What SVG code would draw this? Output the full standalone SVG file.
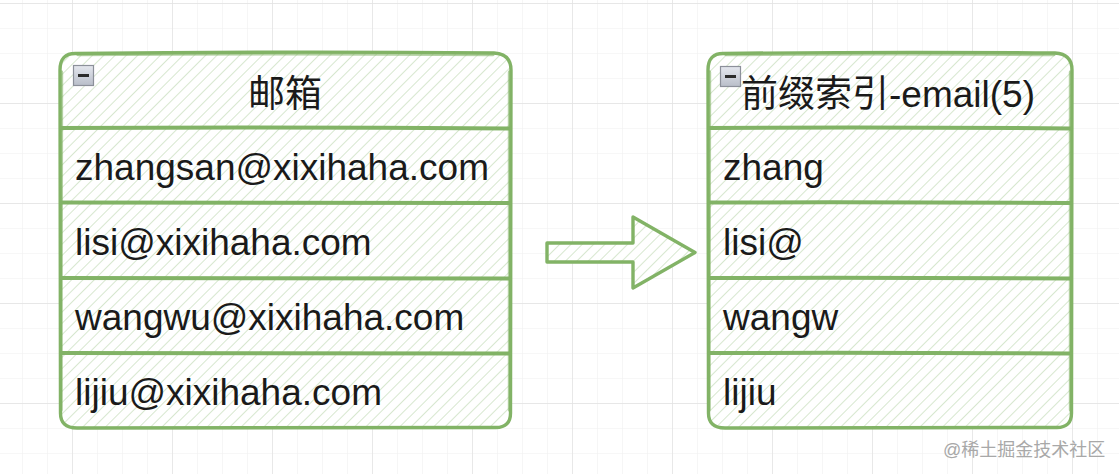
<svg xmlns="http://www.w3.org/2000/svg" width="1119" height="474" viewBox="0 0 1119 474">
  <defs>
    <pattern id="minor" patternUnits="userSpaceOnUse" x="72" y="3" width="25" height="25">
      <path d="M0,0 V25 M0,0 H25" fill="none" stroke="#f0f0f0" stroke-width="1.2"/>
    </pattern>
    <pattern id="major" patternUnits="userSpaceOnUse" x="72" y="3" width="100" height="100">
      <path d="M0,0 V100 M0,0 H100" fill="none" stroke="#e2e2e2" stroke-width="1.4"/>
    </pattern>
    <pattern id="hatch" patternUnits="userSpaceOnUse" width="8" height="8" patternTransform="rotate(45)">
      <line x1="0" y1="0" x2="0" y2="8" stroke="#cde1c3" stroke-width="1.6"/>
    </pattern>
    <linearGradient id="iconGrad" x1="0" y1="0" x2="0" y2="1">
      <stop offset="0" stop-color="#e4e7ee"/>
      <stop offset="1" stop-color="#b9bec9"/>
    </linearGradient>
    <g id="collapse">
      <rect x="0.5" y="0.5" width="20" height="20" fill="url(#iconGrad)" stroke="#8c909a" stroke-width="1.2"/>
      <line x1="5" y1="10.5" x2="16" y2="10.5" stroke="#2b2b2b" stroke-width="3"/>
    </g>
  </defs>
  <style>
    .box { fill: #ffffff; }
    .hatch { fill: url(#hatch); }
    .edge { fill: none; stroke: #82b366; stroke-width: 3.4; stroke-linejoin: round; stroke-linecap: round; }
    .sep { fill: none; stroke: #82b366; stroke-width: 4; stroke-linecap: round; }
    .t { font-family: "Liberation Sans", "Noto Sans CJK SC", sans-serif; font-size: 37px; fill: #1a1a1a; }
    .wm { font-family: "Liberation Sans", "Noto Sans CJK SC", sans-serif; font-size: 18px; fill: #a8a8a8; }
  </style>

  <!-- background grid -->
  <rect x="0" y="0" width="1119" height="474" fill="#ffffff"/>
  <rect x="0" y="0" width="1119" height="474" fill="url(#minor)"/>
  <rect x="0" y="0" width="1119" height="474" fill="url(#major)"/>

  <!-- left table -->
  <g id="node-email">
    <rect class="box" x="60" y="53" width="451" height="375" rx="16"/>
    <rect class="hatch" x="60" y="53" width="451" height="375" rx="16"/>
    <path class="edge" d="M76,53.5 Q290,51 494,53 Q511,54 511,70 L510.5,412 Q511,428 495,427.5 L77,428 Q60,428 60.5,412 L60,70 Q60,53 76,53.5 Z"/>
    <path class="edge" d="M78,54.5 Q290,53 493,54.5 M61.5,72 L61,410 M509.5,72 L509.5,410" stroke-width="1.2" opacity="0.6"/>
    <path class="sep" d="M61,128 Q285,127 510,128.5 M61,202.5 Q285,202 510,203 M61,278 Q285,277.5 510,278.5 M61,353 Q285,352.5 510,353.5"/>
    <use href="#collapse" x="73" y="65"/>
    <g id="email-header"><text class="t" x="285" y="107" text-anchor="middle">邮箱</text></g>
    <g id="email-row1"><text class="t" x="75" y="180">zhangsan@xixihaha.com</text></g>
    <g id="email-row2"><text class="t" x="75" y="255">lisi@xixihaha.com</text></g>
    <g id="email-row3"><text class="t" x="75" y="330">wangwu@xixihaha.com</text></g>
    <g id="email-row4"><text class="t" x="75" y="405">lijiu@xixihaha.com</text></g>
  </g>

  <!-- right table -->
  <g id="node-prefix">
    <rect class="box" x="708" y="53" width="364" height="375" rx="16"/>
    <rect class="hatch" x="708" y="53" width="364" height="375" rx="16"/>
    <path class="edge" d="M724,53.5 Q890,51.5 1055,53 Q1072,54 1072,70 L1071.5,412 Q1072,428 1056,427.5 L725,428 Q708,428 708.5,412 L708,70 Q708,53 724,53.5 Z"/>
    <path class="edge" d="M726,54.5 Q890,53 1054,54.5 M709.5,72 L709,410 M1070.5,72 L1070.5,410" stroke-width="1.2" opacity="0.6"/>
    <path class="sep" d="M709,128 Q890,127 1071,128.5 M709,202.5 Q890,202 1071,203 M709,278 Q890,277.5 1071,278.5 M709,353 Q890,352.5 1071,353.5"/>
    <use href="#collapse" x="720" y="66"/>
    <g id="prefix-header"><text class="t" x="888" y="107" text-anchor="middle">前缀索引-email(5)</text></g>
    <g id="prefix-row1"><text class="t" x="723" y="180">zhang</text></g>
    <g id="prefix-row2"><text class="t" x="723" y="255">lisi@</text></g>
    <g id="prefix-row3"><text class="t" x="723" y="330">wangw</text></g>
    <g id="prefix-row4"><text class="t" x="723" y="405">lijiu</text></g>
  </g>

  <!-- block arrow -->
  <g id="connectors">
    <g id="arrow">
      <polygon class="box" points="547,243 633,243 633,217 695,252.5 633,288 633,262 547,262"/>
      <polygon class="hatch" points="547,243 633,243 633,217 695,252.5 633,288 633,262 547,262"/>
      <polygon class="edge" points="547,243 633,243 633,217 695,252.5 633,288 633,262 547,262"/>
    </g>
  </g>

  <text class="wm" x="943" y="456">@稀土掘金技术社区</text>
</svg>
